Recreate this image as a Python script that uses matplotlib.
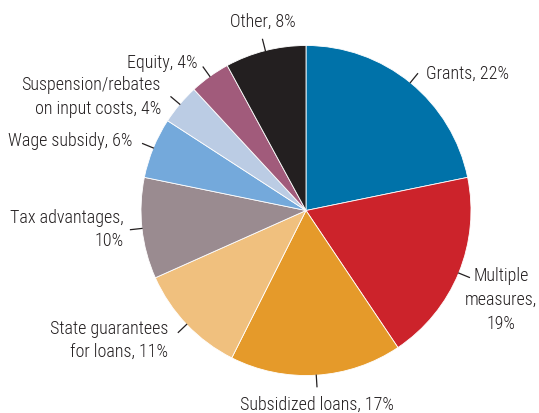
import matplotlib
matplotlib.use('Agg')
import matplotlib.pyplot as plt
from matplotlib import font_manager
import numpy as np

# pick a narrow sans if one is installed
installed = {f.name for f in font_manager.fontManager.ttflist}
narrow = [n for n in ['Liberation Sans Narrow', 'DejaVu Sans Condensed',
                      'Roboto Condensed', 'Open Sans Condensed', 'Roboto']
          if n in installed]
plt.rcParams['font.family'] = narrow + ['DejaVu Sans']
plt.rcParams['font.stretch'] = 'condensed'

labels = ['Grants, 22%', 'Multiple\nmeasures,\n19%', 'Subsidized loans, 17%',
          'State guarantees\nfor loans, 11%', 'Tax advantages,\n10%',
          'Wage subsidy, 6%', 'Suspension/rebates\non input costs, 4%',
          'Equity, 4%', 'Other, 8%']
shares = [22, 19, 17, 11, 10, 6, 4, 4, 8]
colors = ['#0072A9', '#CC232B', '#E59A2A', '#F0C07E', '#9A8B90',
          '#74A9DB', '#BBCCE4', '#A15B7B', '#231F20']

# text offset from the end of the leader line (pixels, y down) and alignment
label_style = [
    (8, 0, 'left', 'center'),
    (32, -10, 'center', 'top'),
    (0, 9, 'center', 'top'),
    (-10, 8, 'right', 'center'),
    (-7, 0, 'right', 'center'),
    (-10, -3, 'right', 'center'),
    (-10, 0, 'right', 'center'),
    (-6, -4, 'right', 'center'),
    (0, -9, 'center', 'bottom'),
]

W, H = 539, 413
fig = plt.figure(figsize=(W / 100, H / 100), dpi=100)
ax = fig.add_axes([0, 0, 1, 1])

cx, cy, r = 306, H - 210.5, 165
wedges, _ = ax.pie(shares, colors=colors, startangle=90, counterclock=False,
                   center=(cx, cy), radius=r,
                   wedgeprops=dict(edgecolor='white', linewidth=0.6))

for w, lab, (dx, dy, ha, va) in zip(wedges, labels, label_style):
    mid = np.deg2rad((w.theta1 + w.theta2) / 2)
    x0, y0 = cx + r * np.cos(mid), cy + r * np.sin(mid)
    x1, y1 = cx + 1.07 * r * np.cos(mid), cy + 1.07 * r * np.sin(mid)
    ax.plot([x0, x1], [y0, y1], color='#231F20', lw=0.9)
    ax.text(x1 + dx, y1 - dy, lab, ha=ha, va=va, fontsize=13,
            fontweight='light', color='#231F20', linespacing=1.4)

ax.set_xlim(0, W)
ax.set_ylim(0, H)
ax.set_aspect('equal')
ax.axis('off')

fig.savefig('out.png', dpi=100)
